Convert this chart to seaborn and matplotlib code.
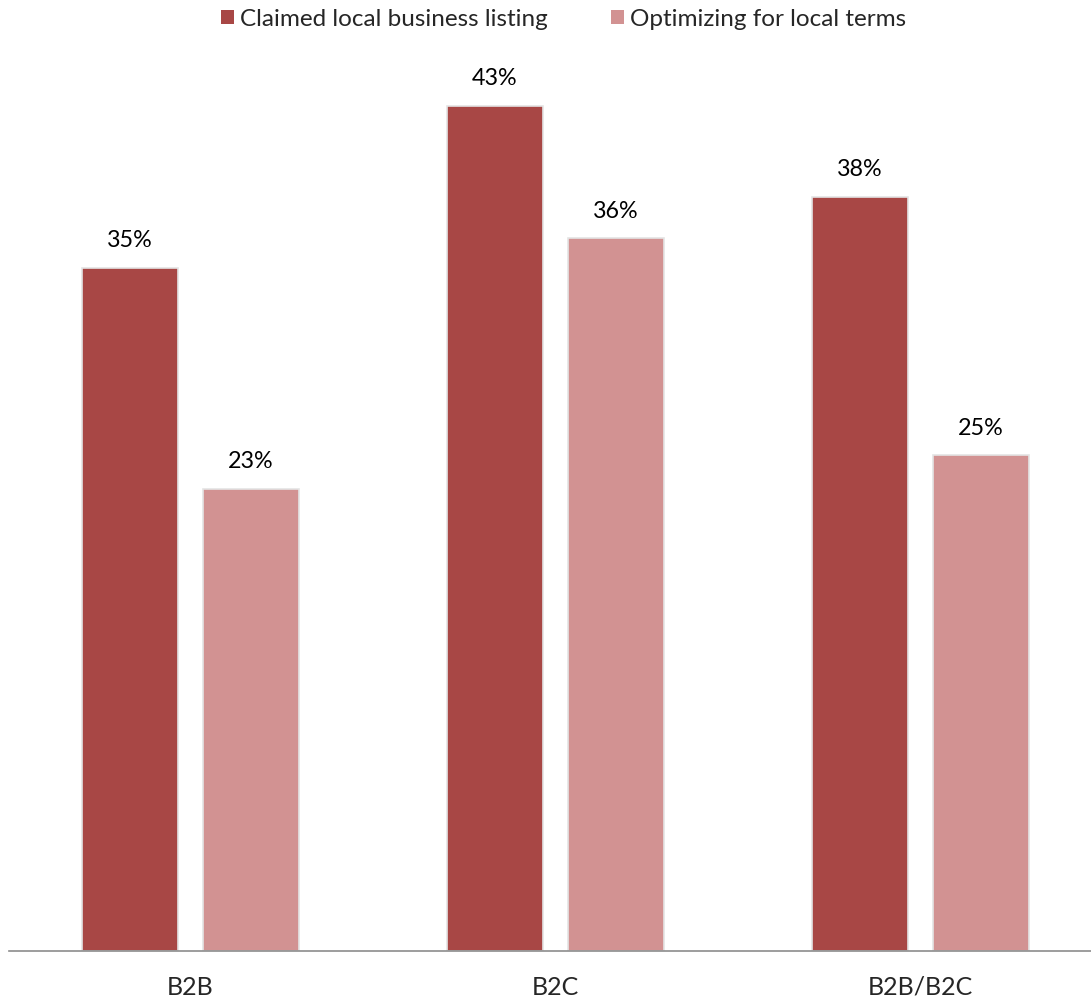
import pandas as pd
import numpy as np
import matplotlib.pyplot as plt
import seaborn as sns
from matplotlib.patches import Patch

segments = ['B2B', 'B2C', 'B2B/B2C']
series = ['Claimed local business listing', 'Optimizing for local terms']
claimed = [34.6, 42.8, 38.2]
optimizing = [23.4, 36.1, 25.1]
colors = ['#A84745', '#D29292']

df = pd.DataFrame({
    'segment': segments * 2,
    'series': [series[0]] * 3 + [series[1]] * 3,
    'value': claimed + optimizing,
})

sns.set_style('white')
plt.rcParams['font.family'] = ['Lato', 'DejaVu Sans']

fig = plt.figure(figsize=(10.91, 10.04), dpi=100)
ax = fig.add_axes([9 / 1091, 1 - 952 / 1004, 1 - 9 / 1091, (952 - 63.25) / 1004])

sns.barplot(data=df, x='segment', y='value', hue='series', order=segments,
            hue_order=series, palette=colors, width=0.663, gap=0.206,
            saturation=1, edgecolor='#e4e4e4', linewidth=1.2, legend=False, ax=ax)

for cont in ax.containers:
    ax.bar_label(cont, labels=[f'{round(v)}%' for v in cont.datavalues],
                 padding=12.5, fontsize=16.8, color='black')

ax.set_xlim(-0.497, 2.467)
ax.set_ylim(0, 45)
ax.set_xlabel('')
ax.set_ylabel('')
ax.set_yticks([])
for s in ['top', 'right', 'left']:
    ax.spines[s].set_visible(False)
ax.spines['bottom'].set_color('#8c8c8c')
ax.spines['bottom'].set_linewidth(1.2)
ax.tick_params(axis='x', length=0, pad=17, labelsize=18)

handles = [Patch(facecolor=c, edgecolor='none') for c in colors]
fig.legend(handles, series, loc='center', bbox_to_anchor=(563.5 / 1091, 1 - 20 / 1004),
           ncol=2, frameon=False, fontsize=17.5, handlelength=0.55, handleheight=0.55,
           handletextpad=0.25, columnspacing=2.6)

fig.savefig('out.png', dpi=100)
